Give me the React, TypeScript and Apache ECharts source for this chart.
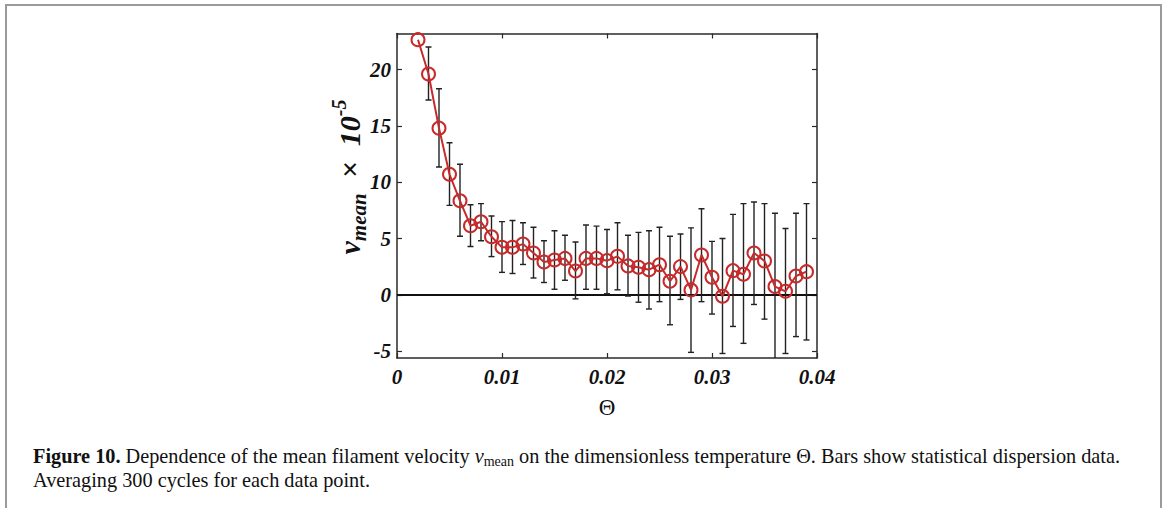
import React, { useEffect, useRef } from "react";
import * as echarts from "echarts";

const theta = [
  0.002, 0.003, 0.004, 0.005, 0.006, 0.007, 0.008, 0.009, 0.01, 0.011, 0.012, 0.013, 0.014,
  0.015, 0.016, 0.017, 0.018, 0.019, 0.02, 0.021, 0.022, 0.023, 0.024, 0.025, 0.026, 0.027,
  0.028, 0.029, 0.03, 0.031, 0.032, 0.033, 0.034, 0.035, 0.036, 0.037, 0.038, 0.039,
];
const vMean = [
  22.65, 19.6, 14.8, 10.7, 8.35, 6.14, 6.49, 5.16, 4.22, 4.22, 4.51, 3.72, 2.92,
  3.1, 3.24, 2.12, 3.24, 3.24, 3.04, 3.42, 2.57, 2.45, 2.24, 2.68, 1.21, 2.51,
  0.44, 3.54, 1.56, -0.12, 2.15, 1.83, 3.72, 3.01, 0.74, 0.32, 1.68, 2.06,
];
const errHigh = [
  null, 22.0, 18.3, 13.5, 11.6, 8.0, 8.1, 7.0, 6.5, 6.6, 6.4, 6.0, 4.8,
  5.7, 5.3, 4.7, 6.2, 6.1, 5.8, 6.4, 5.3, 5.55, 5.7, 6.0, 5.2, 5.4,
  5.95, 7.65, 4.75, 5.0, 7.15, 8.1, 8.25, 8.1, 7.25, 5.9, 7.25, 8.1,
];
const errLow = [
  null, 17.3, 11.35, 7.95, 5.2, 4.3, 4.8, 3.4, 2.0, 1.9, 2.7, 1.5, 1.1,
  0.5, 1.3, -0.35, 0.5, 0.5, 0.1, 0.45, -0.1, -0.65, -1.25, -0.6, -2.65, -0.4,
  -5.1, -0.6, -1.7, -5.2, -2.8, -4.3, -0.85, -2.15, -6.5, -5.2, -3.7, -4.0,
];
const yTicks = [-5, 0, 5, 10, 15, 20];

const SERIF = "'Liberation Serif', 'Times New Roman', serif";
const AXIS = "#2a2a2a";
const RED = "#c62a2a";

export default function App() {
  const ref = useRef<HTMLDivElement>(null);
  useEffect(() => {
    if (!ref.current) return;
    const chart = echarts.init(ref.current, null, { renderer: "svg" });
    const tickFont = {
      fontFamily: SERIF,
      fontWeight: "bold" as const,
      fontStyle: "italic" as const,
      fontSize: 21,
      color: "#111",
    };
    const errData = theta
      .map((t, i) => (errLow[i] == null ? null : [t, errLow[i], errHigh[i]]))
      .filter((d) => d !== null);
    const option: any = {
      animation: false,
      backgroundColor: "#fff",
      grid: { left: 397, top: 33.5, right: 349, bottom: 150, containLabel: false },
      xAxis: [
        {
          type: "value",
          min: 0,
          max: 0.04,
          interval: 0.01,
          position: "bottom",
          axisLine: { show: true, onZero: false, lineStyle: { color: AXIS, width: 1.5 } },
          axisTick: { show: true, inside: true, length: 5, lineStyle: { color: AXIS, width: 1.2 } },
          axisLabel: {
            ...tickFont,
            margin: 8,
            formatter: (v: number) => (v === 0 ? "0" : v.toFixed(2)),
          },
          splitLine: { show: false },
          name: "Θ",
          nameLocation: "middle",
          nameGap: 38,
          nameTextStyle: { fontFamily: SERIF, fontSize: 23, color: "#111" },
        },
        {
          type: "value",
          min: 0,
          max: 0.04,
          interval: 0.01,
          position: "top",
          axisLine: { show: true, onZero: false, lineStyle: { color: AXIS, width: 1.5 } },
          axisTick: { show: true, inside: true, length: 5, lineStyle: { color: AXIS, width: 1.2 } },
          axisLabel: { show: false },
          splitLine: { show: false },
        },
      ],
      yAxis: [
        {
          type: "value",
          min: -5.6,
          max: 23.2,
          position: "left",
          axisLine: { show: true, onZero: false, lineStyle: { color: AXIS, width: 1.5 } },
          axisTick: {
            show: true,
            inside: true,
            length: 5,
            customValues: yTicks,
            lineStyle: { color: AXIS, width: 1.2 },
          },
          axisLabel: { ...tickFont, margin: 6, customValues: yTicks },
          splitLine: { show: false },
        },
        {
          type: "value",
          min: -5.6,
          max: 23.2,
          position: "right",
          axisLine: { show: true, onZero: false, lineStyle: { color: AXIS, width: 1.5 } },
          axisTick: {
            show: true,
            inside: true,
            length: 5,
            customValues: yTicks,
            lineStyle: { color: AXIS, width: 1.2 },
          },
          axisLabel: { show: false },
          splitLine: { show: false },
        },
      ],
      series: [
        {
          type: "custom",
          xAxisIndex: 0,
          yAxisIndex: 0,
          clip: true,
          z: 2,
          data: errData,
          renderItem: (params: any, api: any) => {
            const x = api.value(0);
            const lo = api.coord([x, api.value(1)]);
            const hi = api.coord([x, api.value(2)]);
            const w = 3;
            const st = { stroke: "#222", lineWidth: 1.4 };
            return {
              type: "group",
              children: [
                { type: "line", shape: { x1: lo[0], y1: lo[1], x2: hi[0], y2: hi[1] }, style: st },
                { type: "line", shape: { x1: lo[0] - w, y1: lo[1], x2: lo[0] + w, y2: lo[1] }, style: st },
                { type: "line", shape: { x1: hi[0] - w, y1: hi[1], x2: hi[0] + w, y2: hi[1] }, style: st },
              ],
            };
          },
        },
        {
          type: "line",
          xAxisIndex: 0,
          yAxisIndex: 0,
          z: 3,
          data: theta.map((t, i) => [t, vMean[i]]),
          symbol: "circle",
          symbolSize: 13,
          lineStyle: { color: RED, width: 2 },
          itemStyle: { color: "rgba(0,0,0,0)", borderColor: RED, borderWidth: 2 },
          markLine: {
            silent: true,
            symbol: ["none", "none"],
            label: { show: false },
            lineStyle: { color: "#111", width: 2, type: "solid" },
            data: [{ yAxis: 0 }],
            z: 1,
          },
        },
      ],
      graphic: [
        { type: "line", shape: { x1: 5, y1: 5, x2: 1162, y2: 5 }, style: { stroke: "#9a9a9a", lineWidth: 2 } },
        { type: "line", shape: { x1: 6, y1: 5, x2: 6, y2: 508 }, style: { stroke: "#9a9a9a", lineWidth: 2 } },
        { type: "line", shape: { x1: 1161, y1: 5, x2: 1161, y2: 508 }, style: { stroke: "#9a9a9a", lineWidth: 2 } },
        {
          type: "text",
          x: 349,
          y: 177,
          rotation: Math.PI / 2,
          style: {
            text: "{m|v}{s|mean}{m|  ×  10}{p|-5}",
            align: "center",
            verticalAlign: "middle",
            rich: {
              m: { fontFamily: SERIF, fontWeight: "bold", fontStyle: "italic", fontSize: 30, lineHeight: 40, verticalAlign: "middle", fill: "#111" },
              s: { fontFamily: SERIF, fontWeight: "bold", fontStyle: "italic", fontSize: 21, lineHeight: 21, verticalAlign: "bottom", fill: "#111" },
              p: { fontFamily: SERIF, fontWeight: "bold", fontStyle: "italic", fontSize: 20, lineHeight: 20, verticalAlign: "top", fill: "#111" },
            },
          },
        },
        {
          type: "text",
          x: 33,
          y: 456,
          style: {
            text: "{b|Figure 10.}{n| Dependence of the mean filament velocity }{i|v}{s|mean}{n| on the dimensionless temperature Θ. Bars show statistical dispersion data.}",
            verticalAlign: "middle",
            rich: {
              b: { fontFamily: SERIF, fontWeight: "bold", fontSize: 20.3, lineHeight: 24, verticalAlign: "middle", fill: "#111" },
              n: { fontFamily: SERIF, fontSize: 20.3, lineHeight: 24, verticalAlign: "middle", fill: "#111" },
              i: { fontFamily: SERIF, fontStyle: "italic", fontSize: 20.3, lineHeight: 24, verticalAlign: "middle", fill: "#111" },
              s: { fontFamily: SERIF, fontSize: 14, lineHeight: 14, verticalAlign: "bottom", fill: "#111" },
            },
          },
        },
        {
          type: "text",
          x: 33,
          y: 480,
          style: {
            text: "Averaging 300 cycles for each data point.",
            fontFamily: SERIF,
            fontSize: 20.3,
            verticalAlign: "middle",
            fill: "#111",
          },
        },
      ],
    };
    chart.setOption(option);
    return () => chart.dispose();
  }, []);
  return (
    <div
      ref={ref}
      style={{ position: "fixed", left: 0, top: 0, width: 1166, height: 508, background: "#fff" }}
    />
  );
}
